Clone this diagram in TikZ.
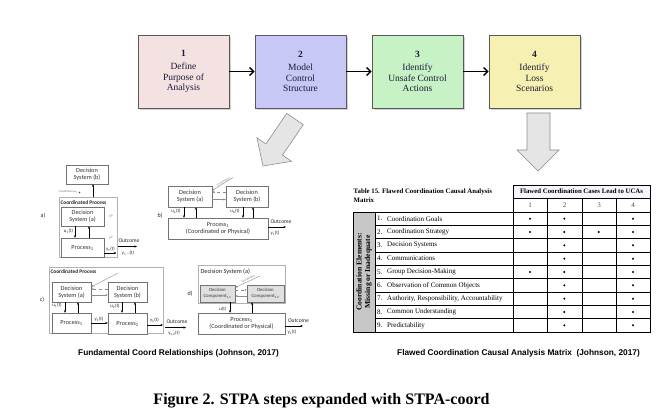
\documentclass[tikz,border=0pt]{standalone}
\usepackage{fontspec}
\setmainfont{Liberation Serif}
\newfontfamily\carl{Carlito}
\newfontfamily\arialf{Liberation Sans}
\usetikzlibrary{arrows.meta,shadows}
\definecolor{pinkb}{HTML}{F4E2E2}
\definecolor{blueb}{HTML}{C8C8F6}
\definecolor{greenb}{HTML}{C6F2C6}
\definecolor{yellowb}{HTML}{F6F1B2}
\definecolor{navyt}{HTML}{1A1A36}
\tikzset{
 stepbox/.style={draw=black!65, line width=0.6pt, minimum width=91pt, minimum height=73pt,
   align=center, inner sep=0pt, font=\fontsize{9.5}{10.5}\selectfont, text=navyt,
   drop shadow={shadow xshift=1.6pt, shadow yshift=-1.6pt, fill=black!35}},
 steparrow/.style={line width=1.4pt, -{Straight Barb[length=4pt,width=8pt]}},
 bigarrow/.style={draw=black!45, fill=black!10, line width=0.6pt, line join=miter},
 dbox/.style={draw=black!55, line width=0.4pt, fill=white, align=center, inner sep=0pt,
   font=\carl\fontsize{6.3}{7.2}\selectfont, text=black!80},
 obox/.style={draw=black!30, line width=0.4pt, inner sep=0pt},
 lab/.style={font=\carl\fontsize{4.8}{5.5}\selectfont, inner sep=0.3pt, text=black!85},
 tinylab/.style={font=\carl\fontsize{2.8}{3}\selectfont, inner sep=0.2pt, text=black!55},
 sarr/.style={-{Stealth[length=2.6pt,width=2.2pt]}, line width=0.6pt},
 carr/.style={-{Stealth[length=2.4pt,width=2pt]}, line width=0.4pt, black!45},
 tcell/.style={font=\fontsize{7}{8}\selectfont, inner sep=0pt},
 caplab/.style={font=\arialf\bfseries\fontsize{8.3}{9}\selectfont, inner sep=0pt},
}
\begin{document}
\begin{tikzpicture}[x=1pt,y=-1pt]
\fill[white] (0,0) rectangle (669,414);
\useasboundingbox (0,0) rectangle (669,414);

% ---------- top steps ----------
\node[stepbox, fill=pinkb]   (b1) at (183.5,71.5) {\textbf{1}\\[3pt]Define\\Purpose of\\Analysis};
\node[stepbox, fill=blueb]   (b2) at (300.5,71.5) {\textbf{2}\\[3pt]Model\\Control\\Structure};
\node[stepbox, fill=greenb]  (b3) at (417.5,71.5) {\textbf{3}\\[3pt]Identify\\Unsafe Control\\Actions};
\node[stepbox, fill=yellowb] (b4) at (534.5,71.5) {\textbf{4}\\[3pt]Identify\\Loss\\Scenarios};
\draw[steparrow] (b1) -- (b2);
\draw[steparrow] (b2) -- (b3);
\draw[steparrow] (b3) -- (b4);

% big hollow arrows
\draw[bigarrow] (286.7,113.4) -- (303.3,124.6) -- (282.5,155.1) -- (291.6,161.3) -- (263,166)
  -- (256.9,137.7) -- (266.0,143.9) -- cycle;
\draw[bigarrow] (527,113) -- (550,113) -- (550,150) -- (559,150) -- (538,171) -- (517,150) -- (527,150) -- cycle;

% ---------- diagram a ----------
\node[lab, font=\carl\fontsize{6}{7}\selectfont] (alab) at (43,216) {a)};
\node[obox, minimum width=58pt, minimum height=60pt] (acp) at (88,227) {};
\node[lab, anchor=west, font=\carl\bfseries\fontsize{5.4}{6}\selectfont] (acpl) at (60,202.5) {Coordinated Process};
\node[dbox, minimum width=42pt, minimum height=19pt] (adsb) at (87,174.5) {Decision\\System (b)};
\node[dbox, minimum width=43pt, minimum height=19pt] (adsa) at (82.5,216.5) {Decision\\System (a)};
\node[dbox, minimum width=43pt, minimum height=19pt] (ap1) at (82.5,247.5) {Process\textsubscript{1}};
\draw[sarr] ([xshift=-7.5pt]adsa.south) -- ([xshift=-7.5pt]adsa.south |- ap1.north);
\draw[sarr] ([xshift=6.5pt]adsa.south |- ap1.north) -- ([xshift=6.5pt]adsa.south);
\node[lab] (au) at (68.5,231) {u\textsubscript{1}(t)};
\draw[sarr] ([xshift=6pt]adsb.south |- acp.north) -- ([xshift=6pt]adsb.south);
\node[tinylab, anchor=east] (acoord) at (74,191.5) {Coordination};
\coordinate (acoordend) at (79.5,192.5);
\draw[black!55, line width=0.4pt, dashed] (acoord.east) -- (acoordend);
\fill[black!70] (acoordend) circle (0.9pt);
\node[tinylab, rotate=30] (ad1) at (111,216) {d(t)};
\node[tinylab, rotate=30] (ad2) at (111,237.5) {d(t)};
\coordinate (aout) at (116.5,253);
\draw[sarr] ([yshift=-5.5pt]ap1.east) -- (aout);
\node[lab] (ay) at (110.5,249) {y\textsubscript{1}(t)};
\node[lab, font=\carl\fontsize{5.6}{6}\selectfont] (aoc) at (129,240.5) {Outcome};
\coordinate (aoa1) at (118,246.5);
\coordinate (aoa2) at (137,246.5);
\draw[sarr] (aoa1) -- (aoa2);
\node[lab] (aoy) at (128,253) {y\textsubscript{1}\,..(t)};

% ---------- diagram b ----------
\node[lab, font=\carl\fontsize{6}{7}\selectfont] (blab) at (160,216) {b)};
\node[dbox, minimum width=44pt, minimum height=21pt] (bdsa) at (190,196.5) {Decision\\System (a)};
\node[dbox, minimum width=42pt, minimum height=21pt] (bdsb) at (247,196.5) {Decision\\System (b)};
\node[dbox, minimum width=100pt, minimum height=21pt] (bp) at (218,228.5) {Process\textsubscript{1}\\(Coordinated or Physical)};
\draw[sarr] ([xshift=-6pt]bdsa.south) -- ([xshift=-6pt]bdsa.south |- bp.north);
\draw[sarr] ([xshift=6pt]bdsa.south |- bp.north) -- ([xshift=6pt]bdsa.south);
\draw[sarr] ([xshift=-4pt]bdsb.south) -- ([xshift=-4pt]bdsb.south |- bp.north);
\draw[sarr] ([xshift=6pt]bdsb.south |- bp.north) -- ([xshift=6pt]bdsb.south);
\node[lab] (bua) at (176,211) {u\textsubscript{a}(t)};
\node[lab] (bub) at (235,211) {u\textsubscript{b}(t)};
\draw[carr, dashed] ([yshift=4.5pt]bdsb.west) -- ([yshift=4.5pt]bdsa.east);
\draw[carr] ([yshift=-3pt]bdsa.east) -- ([yshift=-3pt]bdsb.west);
\coordinate (bcs) at (233,177.5);
\draw[carr] (bcs) -- ([yshift=6pt]bdsa.east);
\node[tinylab, rotate=31, anchor=south] (bcl) at (224,183) {Coordination};
\coordinate (bout) at (286,227);
\draw[sarr] ([yshift=1.5pt]bp.east) -- (bout);
\node[lab, font=\carl\fontsize{5.6}{6}\selectfont] (boc) at (281,221.5) {Outcome};
\node[lab] (by) at (275,233.5) {y\textsubscript{1}(t)};

% ---------- diagram c ----------
\node[lab, font=\carl\fontsize{6}{7}\selectfont] (clab) at (42,300) {c)};
\node[obox, minimum width=114pt, minimum height=66pt] (ccp) at (106,300) {};
\node[lab, anchor=west, font=\carl\bfseries\fontsize{5.4}{6}\selectfont] (ccpl) at (50,272) {Coordinated Process};
\node[dbox, minimum width=39pt, minimum height=20pt] (cdsa) at (71.5,292) {Decision\\System (a)};
\node[dbox, minimum width=39pt, minimum height=20pt] (cdsb) at (127.5,292) {Decision\\System (b)};
\node[dbox, minimum width=39pt, minimum height=20pt] (cp1) at (71.5,323) {Process\textsubscript{1}};
\node[dbox, minimum width=39pt, minimum height=21pt] (cp2) at (127.5,323.5) {Process\textsubscript{2}};
\draw[sarr] ([xshift=-6.5pt]cdsa.south) -- ([xshift=-6.5pt]cdsa.south |- cp1.north);
\draw[sarr] ([xshift=6.5pt]cdsa.south |- cp1.north) -- ([xshift=6.5pt]cdsa.south);
\draw[sarr] ([xshift=-5.5pt]cdsb.south) -- ([xshift=-5.5pt]cdsb.south |- cp2.north);
\draw[sarr] ([xshift=7.5pt]cdsb.south |- cp2.north) -- ([xshift=7.5pt]cdsb.south);
\node[lab] (cu1) at (57,305.5) {u\textsubscript{1}(t)};
\node[lab] (cu2) at (115,306) {u\textsubscript{2}(t)};
\draw[carr, dashed] ([yshift=3pt]cdsb.west) -- ([yshift=3pt]cdsa.east);
\draw[carr] ([yshift=-3pt]cdsa.east) -- ([yshift=-3pt]cdsb.west);
\coordinate (ccs) at (118,273);
\draw[carr] (ccs) -- ([yshift=5pt]cdsa.east);
\draw[sarr] (cp1.east) -- (cp1.east -| cp2.west);
\node[lab] (cy1) at (99,319) {y\textsubscript{1}(t)};
\coordinate (cout) at (163,325);
\draw[sarr] ([yshift=-1.5pt]cp2.east) -- (cout);
\node[lab] (cy2) at (154.5,320) {y\textsubscript{2}(t)};
\node[lab, font=\carl\fontsize{5.6}{6}\selectfont] (coc) at (177,322) {Outcome};
\coordinate (coa1) at (165,327.5);
\coordinate (coa2) at (186,327.5);
\draw[sarr] (coa1) -- (coa2);
\node[lab] (coy) at (174,333) {y\textsubscript{1,2}(t)};

% ---------- diagram d ----------
\node[lab, font=\carl\fontsize{6}{7}\selectfont] (dlab) at (190,294) {d)};
\node[obox, minimum width=87pt, minimum height=38pt] (ddsa) at (241.5,284) {};
\node[lab, anchor=west, font=\carl\fontsize{6.3}{7}\selectfont] (ddsl) at (200,272) {Decision System (a)};
\node[dbox, fill=black!12, minimum width=35pt, minimum height=17pt, font=\carl\fontsize{4.8}{5.6}\selectfont] (dc1) at (217.5,293.5) {Decision\\Component\textsubscript{1,1}};
\node[dbox, fill=black!12, minimum width=37pt, minimum height=17pt, font=\carl\fontsize{4.8}{5.6}\selectfont] (dc2) at (265.5,293.5) {Decision\\Component\textsubscript{1,2}};
\node[dbox, minimum width=87pt, minimum height=21pt] (dp) at (241.5,323.5) {Process\textsubscript{1}\\(Coordinated or Physical)};
\draw[sarr] ([xshift=12.5pt]dc1.south) -- ([xshift=12.5pt]dc1.south |- dp.north);
\draw[sarr] ([xshift=-13.5pt]dc2.south |- dp.north) -- ([xshift=-13.5pt]dc2.south);
\node[lab] (du) at (223,309) {u(t)};
\draw[carr, dashed] ([yshift=3.5pt]dc1.east) -- ([yshift=3.5pt]dc2.west);
\draw[carr] ([yshift=-2.5pt]dc2.west) -- ([yshift=-2.5pt]dc1.east);
\coordinate (dcs) at (260,276);
\draw[carr] (dcs) -- ([yshift=6pt]dc1.east);
\node[tinylab, rotate=25, anchor=south] (dcl) at (249,280) {Coordination};
\coordinate (dout) at (303,326);
\draw[sarr] ([yshift=-2.5pt]dp.east) -- (dout);
\node[lab, font=\carl\fontsize{5.6}{6}\selectfont] (doc) at (298.5,321) {Outcome};
\node[lab] (dy) at (292,332) {y\textsubscript{1}(t)};

% ---------- table ----------
\node[anchor=west, align=left, inner sep=0pt, font=\bfseries\fontsize{6.8}{9}\selectfont] (ttl) at (353.5,195.5)
  {Table 15. Flawed Coordination Causal Analysis\\Matrix};
\fill[black!8!blue!4!white] (513,185) rectangle (650,198);
\fill[black!22] (353,212) rectangle (375,332);
\foreach \i in {1,...,8} {
  \pgfmathsetmacro{\yy}{212+\i*13.333}
  \ifnum\i=3 \def\lw{0.9pt}\else\ifnum\i=6 \def\lw{0.9pt}\else\def\lw{0.4pt}\fi\fi
  \draw[line width=\lw] (375,\yy) -- (650,\yy);
}
\foreach \xx in {547,582,616} \draw[line width=0.4pt] (\xx,198) -- (\xx,332);
\draw[line width=0.5pt] (513,198) -- (650,198);
\draw[line width=0.9pt] (513,185) rectangle (650,212);
\draw[line width=0.9pt] (353,212) rectangle (650,332);
\draw[line width=0.5pt] (375,212) -- (375,332);
\draw[line width=0.9pt] (513,212) -- (513,332);
\node[font=\bfseries\fontsize{6.8}{8}\selectfont, inner sep=0pt] (thead) at (581.5,191.5) {Flawed Coordination Cases Lead to UCAs};
\foreach \n/\xx in {1/530,2/564.5,3/599,4/633}
  \node[tcell, text=black!70] (tn\n) at (\xx,205) {\n};
\node[rotate=90, align=center, inner sep=0pt, font=\bfseries\fontsize{7.6}{8.6}\selectfont] (tlab) at (364,272)
  {Coordination Elements:\\Missing or Inadequate};
\foreach \i/\txt in {1/Coordination Goals, 2/Coordination Strategy, 3/Decision Systems, 4/Communications,
  5/Group Decision-Making, 6/Observation of Common Objects, 7/{Authority, Responsibility, Accountability},
  8/Common Understanding, 9/Predictability} {
  \pgfmathsetmacro{\yy}{212+(\i-0.5)*13.333}
  \node[tcell, anchor=west] (tnum\i) at (377,\yy) {\i.};
  \node[tcell, anchor=west] (titem\i) at (387,\yy) {\txt};
}
\foreach \i/\c in {1/1,1/2,1/4, 2/1,2/2,2/3,2/4, 3/2,3/4, 4/2,4/4, 5/1,5/2,5/4, 6/2,6/4, 7/2,7/4, 8/2,8/4, 9/2,9/4} {
  \pgfmathsetmacro{\yy}{212+(\i-0.5)*13.333}
  \pgfmathsetmacro{\xx}{530+(\c-1)*34.33}
  \fill (\xx,\yy) circle (1.1pt);
}

% ---------- captions ----------
\node[caplab] (capl) at (178.5,353) {Fundamental Coord Relationships (Johnson, 2017)};
\node[caplab] (capr) at (518.5,353) {Flawed Coordination Causal Analysis Matrix\ \ (Johnson, 2017)};
\node[inner sep=0pt, font=\bfseries\fontsize{16}{18}\selectfont] (figcap) at (321.5,401) {Figure 2. STPA steps expanded with STPA-coord};
\end{tikzpicture}
\end{document}
